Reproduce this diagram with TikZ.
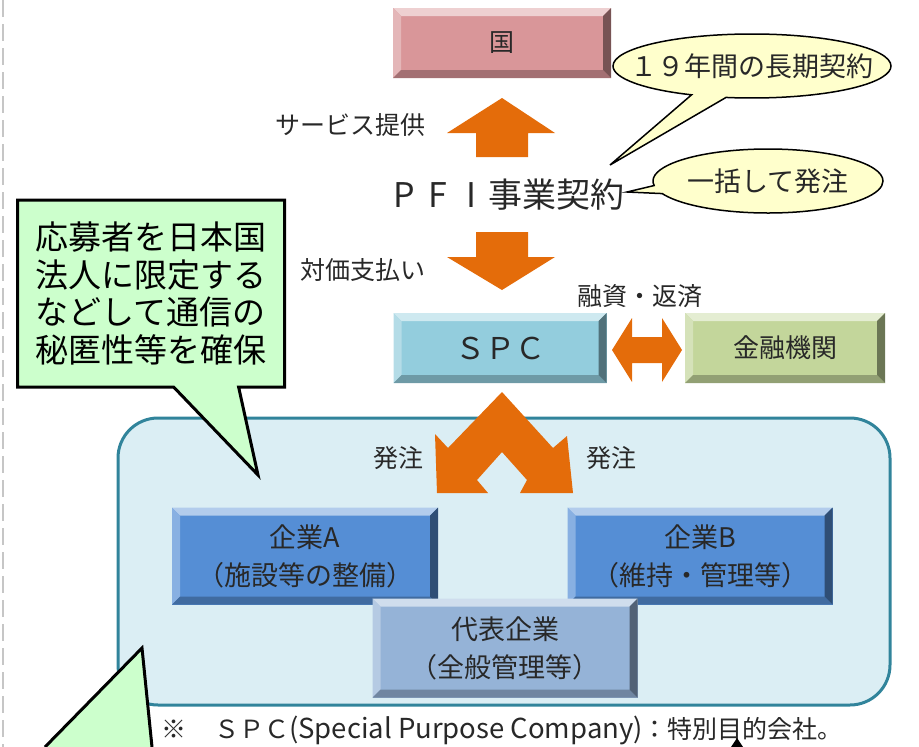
\documentclass[tikz,border=0pt]{standalone}
\usepackage{fontspec}
\setmainfont{Noto Sans CJK JP}
\usetikzlibrary{shapes.callouts}

\definecolor{kuniface}{RGB}{217,150,153}
\definecolor{spcface}{RGB}{147,205,221}
\definecolor{bankface}{RGB}{195,214,155}
\definecolor{firmface}{RGB}{85,142,213}
\definecolor{repface}{RGB}{149,179,215}
\definecolor{blockorange}{RGB}{228,108,10}
\definecolor{groupfill}{RGB}{219,238,244}
\definecolor{groupline}{RGB}{49,132,155}
\definecolor{notefill}{RGB}{255,255,204}
\definecolor{memofill}{RGB}{204,255,204}
\definecolor{inkgray}{RGB}{40,40,40}

\begin{document}
\begin{tikzpicture}[x=1pt,y=-1pt,
   bevelbox/.style={fill=#1, text=inkgray, inner sep=0pt, align=center,
     path picture={
       \path (path picture bounding box.north west) coordinate (bnw)
             (path picture bounding box.north east) coordinate (bne)
             (path picture bounding box.south west) coordinate (bsw)
             (path picture bounding box.south east) coordinate (bse);
       \fill[#1!45!white] (bnw) -- (bne) -- ([xshift=-8pt,yshift=-8pt]bne) -- ([xshift=8pt,yshift=-8pt]bnw) -- cycle;
       \fill[#1!70!white] (bnw) -- (bsw) -- ([xshift=8pt,yshift=8pt]bsw) -- ([xshift=8pt,yshift=-8pt]bnw) -- cycle;
       \fill[#1!75!black] (bsw) -- (bse) -- ([xshift=-8pt,yshift=8pt]bse) -- ([xshift=8pt,yshift=8pt]bsw) -- cycle;
       \fill[#1!55!black] (bne) -- (bse) -- ([xshift=-8pt,yshift=8pt]bse) -- ([xshift=-8pt,yshift=-8pt]bne) -- cycle;
     }},
   label/.style={text=inkgray, font=\fontsize{25pt}{30pt}\selectfont},
   block/.style={fill=blockorange},
   note/.style={ellipse callout, draw=black, line width=1.5pt, fill=notefill, inner sep=0pt,
     text=inkgray, font=\fontsize{27pt}{30pt}\selectfont},
   memo/.style={rectangle callout, draw=black, line width=3pt, fill=memofill}]
   \useasboundingbox (0,0) rectangle (919,747);
   \draw[gray!45, line width=2.5pt, dash pattern=on 17pt off 7pt] (3,0) -- (3,747);

   \draw[groupline, fill=groupfill, line width=3pt, rounded corners=40pt] (118,418) rectangle (890,705);

   \node[bevelbox=kuniface, minimum width=218pt, minimum height=70pt, font=\fontsize{25pt}{30pt}\selectfont] (kuni) at (502,43) {国};
   \node[bevelbox=spcface, minimum width=213pt, minimum height=70pt, font=\fontsize{30pt}{34pt}\selectfont] (spc) at (500,348) {ＳＰＣ};
   \node[bevelbox=bankface, minimum width=200pt, minimum height=70pt, font=\fontsize{26pt}{30pt}\selectfont] (bank) at (785,348) {金融機関};

   \node[label] (service) at (350,125) {サービス提供};
   \node[label] (payment) at (363,270) {対価支払い};
   \node[label] (finance) at (640,296) {融資・返済};
   \node[label] (orderl) at (398,458) {発注};
   \node[label] (orderr) at (611,458) {発注};
   \node[text=inkgray, font=\fontsize{34pt}{38pt}\selectfont] (pfi) at (506,195)
      {\makebox[34pt]{P}\makebox[34pt]{F}\makebox[34pt]{I}事業契約};

   \fill[block] (502,98) -- (555,133) -- (528,133) -- (528,157) -- (476,157) -- (476,133) -- (447,133) -- cycle;
   \fill[block] (476,232) -- (528,232) -- (528,257) -- (555,257) -- (502,290) -- (447,257) -- (476,257) -- cycle;
   \fill[block] (612,350) -- (632,318) -- (632,337) -- (662,337) -- (662,318) -- (682,350)
      -- (662,382) -- (662,363) -- (632,363) -- (632,382) -- cycle;
   \fill[block] (502,392) -- (553,448) -- (567,436) -- (573,493) -- (520,493) -- (527,480) -- (502,452)
      -- (477,480) -- (488,493) -- (437,493) -- (435,434) -- (448,448) -- cycle;

   \coordinate (termtip) at (610,165);
   \coordinate (bulktip) at (627,192);
   \node[note, minimum width=278pt, minimum height=64pt, callout absolute pointer={(termtip)}] (term) at (752,66) {\makebox[0pt]{１９年間の長期契約}};
   \node[note, minimum width=230pt, minimum height=64pt, callout absolute pointer={(bulktip)}] (bulk) at (768,181) {\makebox[0pt]{一括して発注}};

   \coordinate (memotip) at (258,475);
   \node[memo, minimum width=267pt, minimum height=187pt, callout absolute pointer={(memotip)}, callout pointer width=65pt,
      align=left, font=\fontsize{33pt}{37.5pt}\selectfont] (secrecy) at (151,293.5)
      {応募者を日本国\\法人に限定する\\などして通信の\\秘匿性等を確保};

   \node[bevelbox=firmface, minimum width=266pt, minimum height=97pt, font=\fontsize{27pt}{38pt}\selectfont] (firma) at (305,556) {企業A\\（施設等の整備）};
   \node[bevelbox=firmface, minimum width=265pt, minimum height=97pt, font=\fontsize{27pt}{38pt}\selectfont] (firmb) at (700,556) {企業B\\（維持・管理等）};
   \node[bevelbox=repface, minimum width=265pt, minimum height=99pt, font=\fontsize{27pt}{38pt}\selectfont] (rep) at (505,648) {代表企業\\（全般管理等）};

   % tail of a second note, cut by the page edge
   \fill[memofill] (45,747) -- (142,648) -- (152,747) -- cycle;
   \draw[line width=3pt, line join=miter] (45,747) -- (142,648) -- (152,747);

   \node[anchor=west, text=inkgray, font=\fontsize{25pt}{28pt}\selectfont] (foot) at (158,730)
      {※\hspace{1.1em}ＳＰＣ{\fontsize{27.5pt}{28pt}\selectfont(Special Purpose Company)}：特別目的会社。};
   \fill[black] (731,747) -- (737,738) -- (743,747) -- cycle;
\end{tikzpicture}
\end{document}
